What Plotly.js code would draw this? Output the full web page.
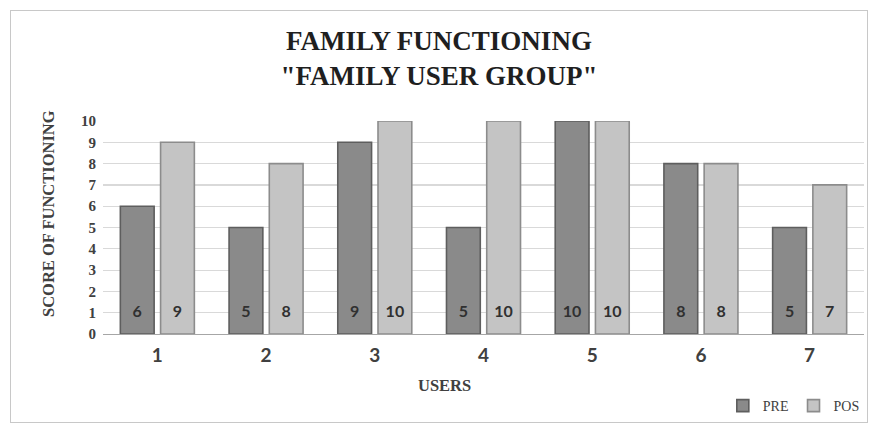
<!DOCTYPE html>
<html>
<head>
<meta charset="utf-8">
<script src="https://cdn.plot.ly/plotly-3.0.1.min.js"></script>
<style>
  html, body { margin: 0; padding: 0; background: #ffffff; }
  #wrap { position: relative; width: 878px; height: 431px; }
  #chart { width: 878px; height: 431px; }
  #frame { position: absolute; left: 10px; top: 10px; width: 858px; height: 413px;
           border: 1px solid #c8c8c8; pointer-events: none; box-sizing: border-box; }
</style>
</head>
<body>
<div id="wrap">
  <div id="chart"></div>
  <div id="frame"></div>
</div>
<script>
// Family functioning scores per user, before (PRE) and after (POS)
const users = ['1', '2', '3', '4', '5', '6', '7'];
const preScores = [6, 5, 9, 5, 10, 8, 5];
const posScores = [9, 8, 10, 10, 10, 8, 7];
const yTicks = [0, 1, 2, 3, 4, 5, 6, 7, 8, 9, 10];
// height at which the value labels sit inside each bar
const labelLevel = users.map(() => 1);

const serif = 'Liberation Serif, DejaVu Serif, serif';
const sans = 'Lato, Open Sans, sans-serif';

const W = 878, H = 431;
const M = { l: 103, r: 14, t: 121, b: 97 };
const plotW = W - M.l - M.r, plotH = H - M.t - M.b;
// pixel position on the page -> paper fraction of the plot area
const px = x => (x - M.l) / plotW;
const py = y => (H - M.b - y) / plotH;

const preBar = {
  type: 'bar', name: 'PRE', x: users, y: preScores, offsetgroup: 'pre',
  marker: { color: '#8a8a8a', line: { color: '#5e5e5e', width: 1.6 } },
  hoverinfo: 'skip'
};
const posBar = {
  type: 'bar', name: 'POS', x: users, y: posScores, offsetgroup: 'pos',
  marker: { color: '#c4c4c4', line: { color: '#8c8c8c', width: 1.6 } },
  hoverinfo: 'skip'
};
const preText = {
  type: 'scatter', mode: 'text', x: users, y: labelLevel, offsetgroup: 'pre',
  text: preScores.map(v => '<b>' + v + '</b>'), showlegend: false, cliponaxis: false,
  textfont: { family: sans, size: 16, color: '#303030' }, hoverinfo: 'skip'
};
const posText = {
  type: 'scatter', mode: 'text', x: users, y: labelLevel, offsetgroup: 'pos',
  text: posScores.map(v => '<b>' + v + '</b>'), showlegend: false, cliponaxis: false,
  textfont: { family: sans, size: 16, color: '#303030' }, hoverinfo: 'skip'
};

const layout = {
  width: W, height: H,
  margin: M,
  paper_bgcolor: '#ffffff', plot_bgcolor: '#ffffff',
  barmode: 'group', bargap: 0.26, bargroupgap: 0.16,
  scattermode: 'group', scattergap: 0.26,
  showlegend: true,
  title: {
    text: '<b>FAMILY FUNCTIONING<br>"FAMILY USER GROUP"</b>',
    font: { family: serif, size: 27, color: '#1f1f1f' },
    x: 0.5, xref: 'container', xanchor: 'center',
    y: 0.884, yref: 'container', yanchor: 'middle'
  },
  xaxis: {
    type: 'category', tickvals: users, ticktext: users.map(u => '<b>' + u + '</b>'),
    tickfont: { family: sans, size: 19, color: '#404040' },
    showgrid: false, showline: true, linecolor: '#a6a6a6', linewidth: 1,
    ticks: '', ticklabelstandoff: 4
  },
  yaxis: {
    range: [0, 10], tickvals: yTicks, ticktext: yTicks.map(v => '<b>' + v + '</b>'),
    tickfont: { family: serif, size: 15, color: '#404040' },
    showgrid: true, gridcolor: '#d9d9d9', gridwidth: 1.2,
    zeroline: false, showline: false, ticks: '', ticklabelstandoff: 6
  },
  annotations: [
    {
      text: '<b>USERS</b>', showarrow: false,
      x: px(444), xref: 'paper', xanchor: 'center',
      y: py(385), yref: 'paper', yanchor: 'middle',
      font: { family: serif, size: 16.5, color: '#404040' }
    },
    {
      text: '<b>SCORE OF FUNCTIONING</b>', showarrow: false, textangle: -90,
      x: px(48), xref: 'paper', xanchor: 'center',
      y: py(214), yref: 'paper', yanchor: 'middle',
      font: { family: serif, size: 16.5, color: '#404040' }
    }
  ],
  legend: {
    orientation: 'h', x: 0.985, xref: 'container', xanchor: 'right',
    y: 0.058, yref: 'container', yanchor: 'middle',
    font: { family: serif, size: 14, color: '#404040' },
    itemwidth: 30, tracegroupgap: 0
  }
};

Plotly.newPlot('chart', [preBar, posBar, preText, posText], layout, { staticPlot: true });
</script>
</body>
</html>
